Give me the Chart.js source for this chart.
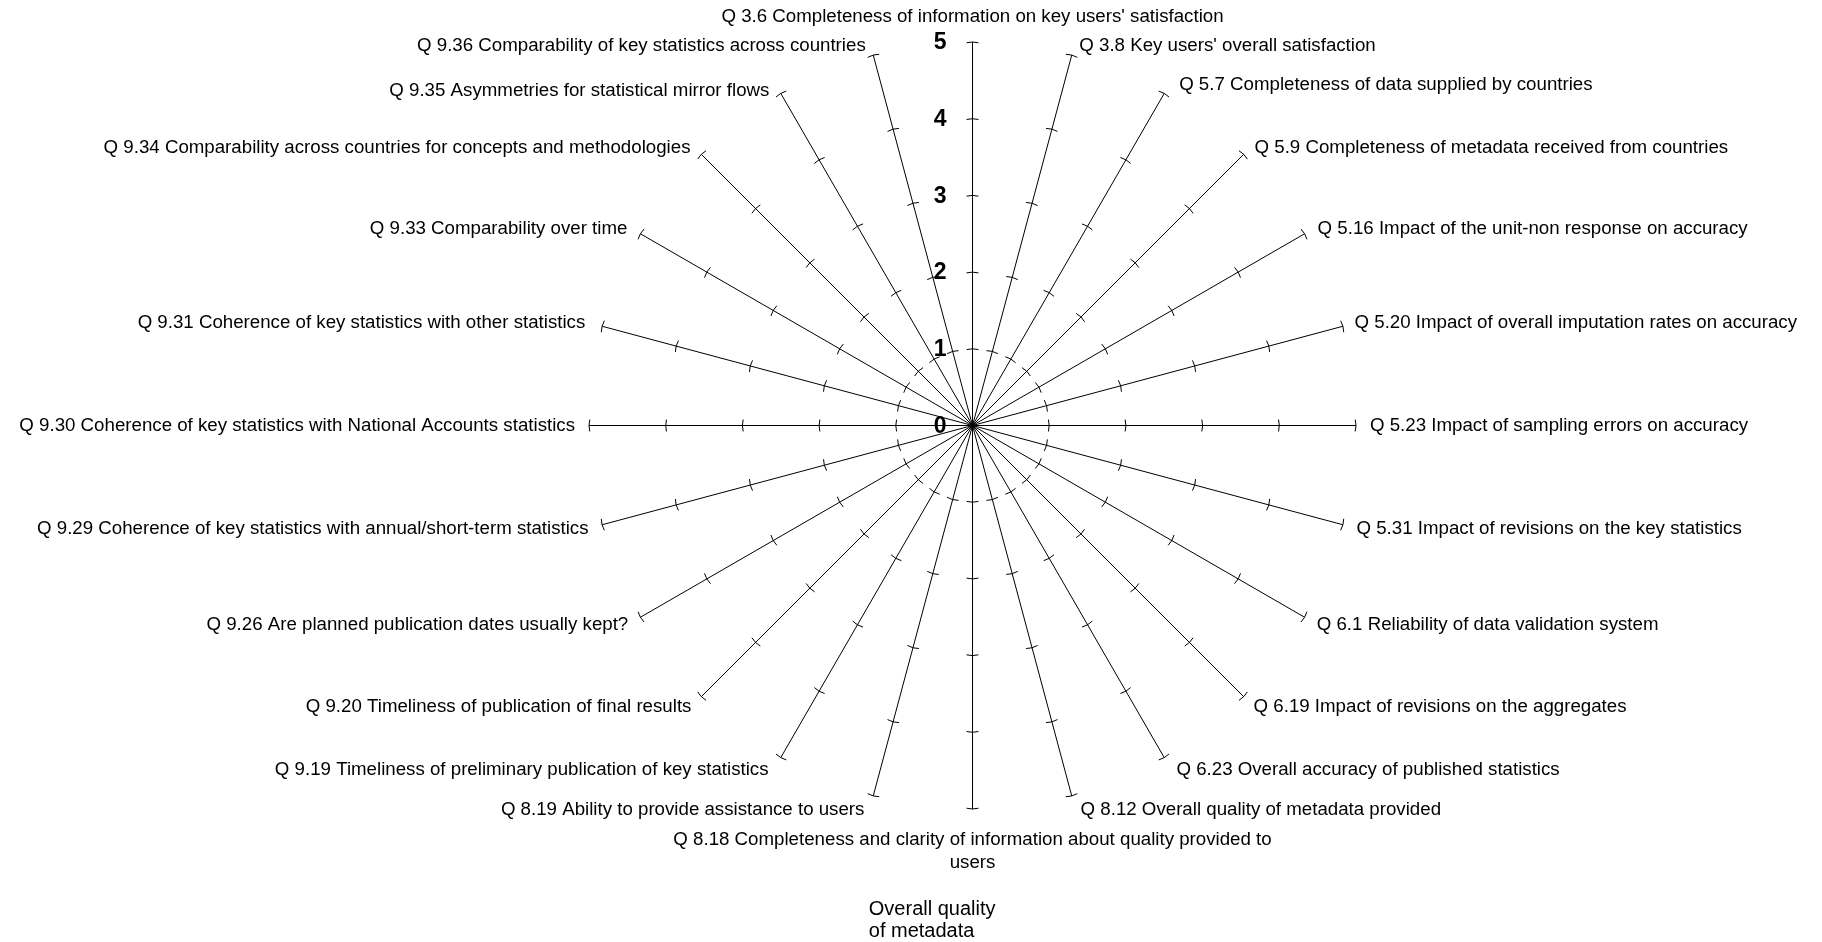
<!DOCTYPE html>
<html>
<head>
<meta charset="utf-8">
<title>Overall quality of metadata</title>
<script src="https://cdn.jsdelivr.net/npm/chart.js@4.4.1/dist/chart.umd.min.js"></script>
<style>
    html, body { margin: 0; padding: 0; background: #fff; }
    #chart-box { width: 1822px; height: 942px; position: relative; }
</style>
</head>
<body>
<div id="chart-box"><canvas id="radar-chart"></canvas></div>
<script>
// questions, clockwise from the top
const questions = [
    "Q 3.6 Completeness of information on key users' satisfaction",
    "Q 3.8 Key users' overall satisfaction",
    "Q 5.7 Completeness of data supplied by countries",
    "Q 5.9 Completeness of metadata received from countries",
    "Q 5.16 Impact of the unit-non response on accuracy",
    "Q 5.20 Impact of overall imputation rates on accuracy",
    "Q 5.23 Impact of sampling errors on accuracy",
    "Q 5.31 Impact of revisions on the key statistics",
    "Q 6.1 Reliability of data validation system",
    "Q 6.19 Impact of revisions on the aggregates",
    "Q 6.23 Overall accuracy of published statistics",
    "Q 8.12 Overall quality of metadata provided",
    ["Q 8.18 Completeness and clarity of information about quality provided to", "users"],
    "Q 8.19 Ability to provide assistance to users",
    "Q 9.19 Timeliness of preliminary publication of key statistics",
    "Q 9.20 Timeliness of publication of final results",
    "Q 9.26 Are planned publication dates usually kept?",
    "Q 9.29 Coherence of key statistics with annual/short-term statistics",
    "Q 9.30 Coherence of key statistics with National Accounts statistics",
    "Q 9.31 Coherence of key statistics with other statistics",
    "Q 9.33 Comparability over time",
    "Q 9.34 Comparability across countries for concepts and methodologies",
    "Q 9.35 Asymmetries for statistical mirror flows",
    "Q 9.36 Comparability of key statistics across countries"
];

// no score is drawn in the original, every answer sits at 0
const overallQuality = [0, 0, 0, 0, 0, 0, 0, 0, 0, 0, 0, 0, 0, 0, 0, 0, 0, 0, 0, 0, 0, 0, 0, 0];
const seriesLabel = ["Overall quality", "of metadata"];
const scoreTicks = [0, 1, 2, 3, 4, 5];

const FONT = '"Liberation Sans", Arial, sans-serif';
const TICK_HALF = 6; // half length of the little tick marks on each spoke

// gap between spoke end and its label; the upper ones sit a bit lower in the original
const labelPad = [25, 9, 9, 8, 9, 12, 14, 14, 14, 14, 14, 14, 20, 14, 14, 14, 14, 14, 14, 12, 9, 8, 2, 9];
// extra spaces on the spoke side of a label, to push it sideways only
const labelNudge = [0, 1, 2, 1, 1, 0, 0, 0, 0, 0, 1, 1, 0, 1, 1, 0, 0, 0, 0, 1, 1, 1, 2, 1];

// bold score numbers to the left of the vertical spoke (chart.js skips the 0 one)
const scoreLabels = {
    id: 'scoreLabels',
    afterDraw(chart) {
        const r = chart.scales.r;
        const ctx = chart.ctx;
        ctx.save();
        ctx.font = 'bold 23px ' + FONT;
        ctx.fillStyle = '#000';
        ctx.textAlign = 'right';
        ctx.textBaseline = 'middle';
        r.ticks.forEach((t) => {
            ctx.fillText(String(t.value), r.xCenter - 26, r.yCenter - r.getDistanceFromCenterForValue(t.value) + 1);
        });
        ctx.restore();
    }
};

// dash pattern that leaves only a short stroke across every spoke
function tickDash(c) {
    const rad = c.scale.getDistanceFromCenterForValue(c.tick.value);
    const edge = 2 * rad * Math.sin(Math.PI / questions.length);
    return [2 * TICK_HALF, Math.max(edge - 2 * TICK_HALF, 0)];
}

window.createRadar = () => {
    new Chart(document.getElementById("radar-chart"), {
        type: 'radar',
        data: {
            labels: questions,
            datasets: [{
                label: seriesLabel,
                data: overallQuality,
                borderColor: '#000',
                borderWidth: 1,
                backgroundColor: 'rgba(0,0,0,0)',
                pointRadius: 0,
                fill: false
            }]
        },
        options: {
            animation: false,
            responsive: true,
            maintainAspectRatio: false,
            layout: { padding: 0 },
            plugins: {
                tooltip: { enabled: false },
                legend: {
                    position: 'bottom',
                    labels: {
                        color: '#000',
                        boxWidth: 142, // marker is hidden, width only pushes the text over
                        boxHeight: 46, // room for the two text lines
                        padding: 6,
                        font: { family: FONT, size: 20, lineHeight: 1.1 },
                        generateLabels: (chart) => Chart.defaults.plugins.legend.labels.generateLabels(chart).map((item) => {
                            item.fillStyle = 'rgba(0,0,0,0)';
                            item.strokeStyle = 'rgba(0,0,0,0)';
                            item.lineWidth = 0;
                            return item;
                        })
                    }
                }
            },
            scales: {
                r: {
                    min: scoreTicks[0],
                    max: scoreTicks[scoreTicks.length - 1],
                    afterSetDimensions: (scale) => {
                        // web sits a little right of the middle, like the original
                        scale.xCenter = scale.left + 972.5;
                        scale.yCenter = scale.top + 425.5;
                        scale.drawingArea = 383.5;
                    },
                    ticks: { display: false, stepSize: 1 },
                    grid: { circular: false, color: '#000', lineWidth: 1 },
                    border: {
                        dash: tickDash,
                        dashOffset: TICK_HALF
                    },
                    angleLines: { color: '#000', lineWidth: 1 },
                    pointLabels: {
                        color: '#000',
                        padding: (c) => labelPad[c.index],
                        callback: (label, i) => {
                            const sp = ' '.repeat(labelNudge[i]);
                            if (Array.isArray(label)) return label;
                            return i < questions.length / 2 ? sp + label : label + sp;
                        },
                        font: (c) => ({
                            family: FONT,
                            size: 18.7,
                            lineHeight: c.index === 12 ? 1.2 : '1px'
                        })
                    }
                }
            }
        },
        plugins: [scoreLabels]
    });
}

createRadar();
</script>
</body>
</html>
